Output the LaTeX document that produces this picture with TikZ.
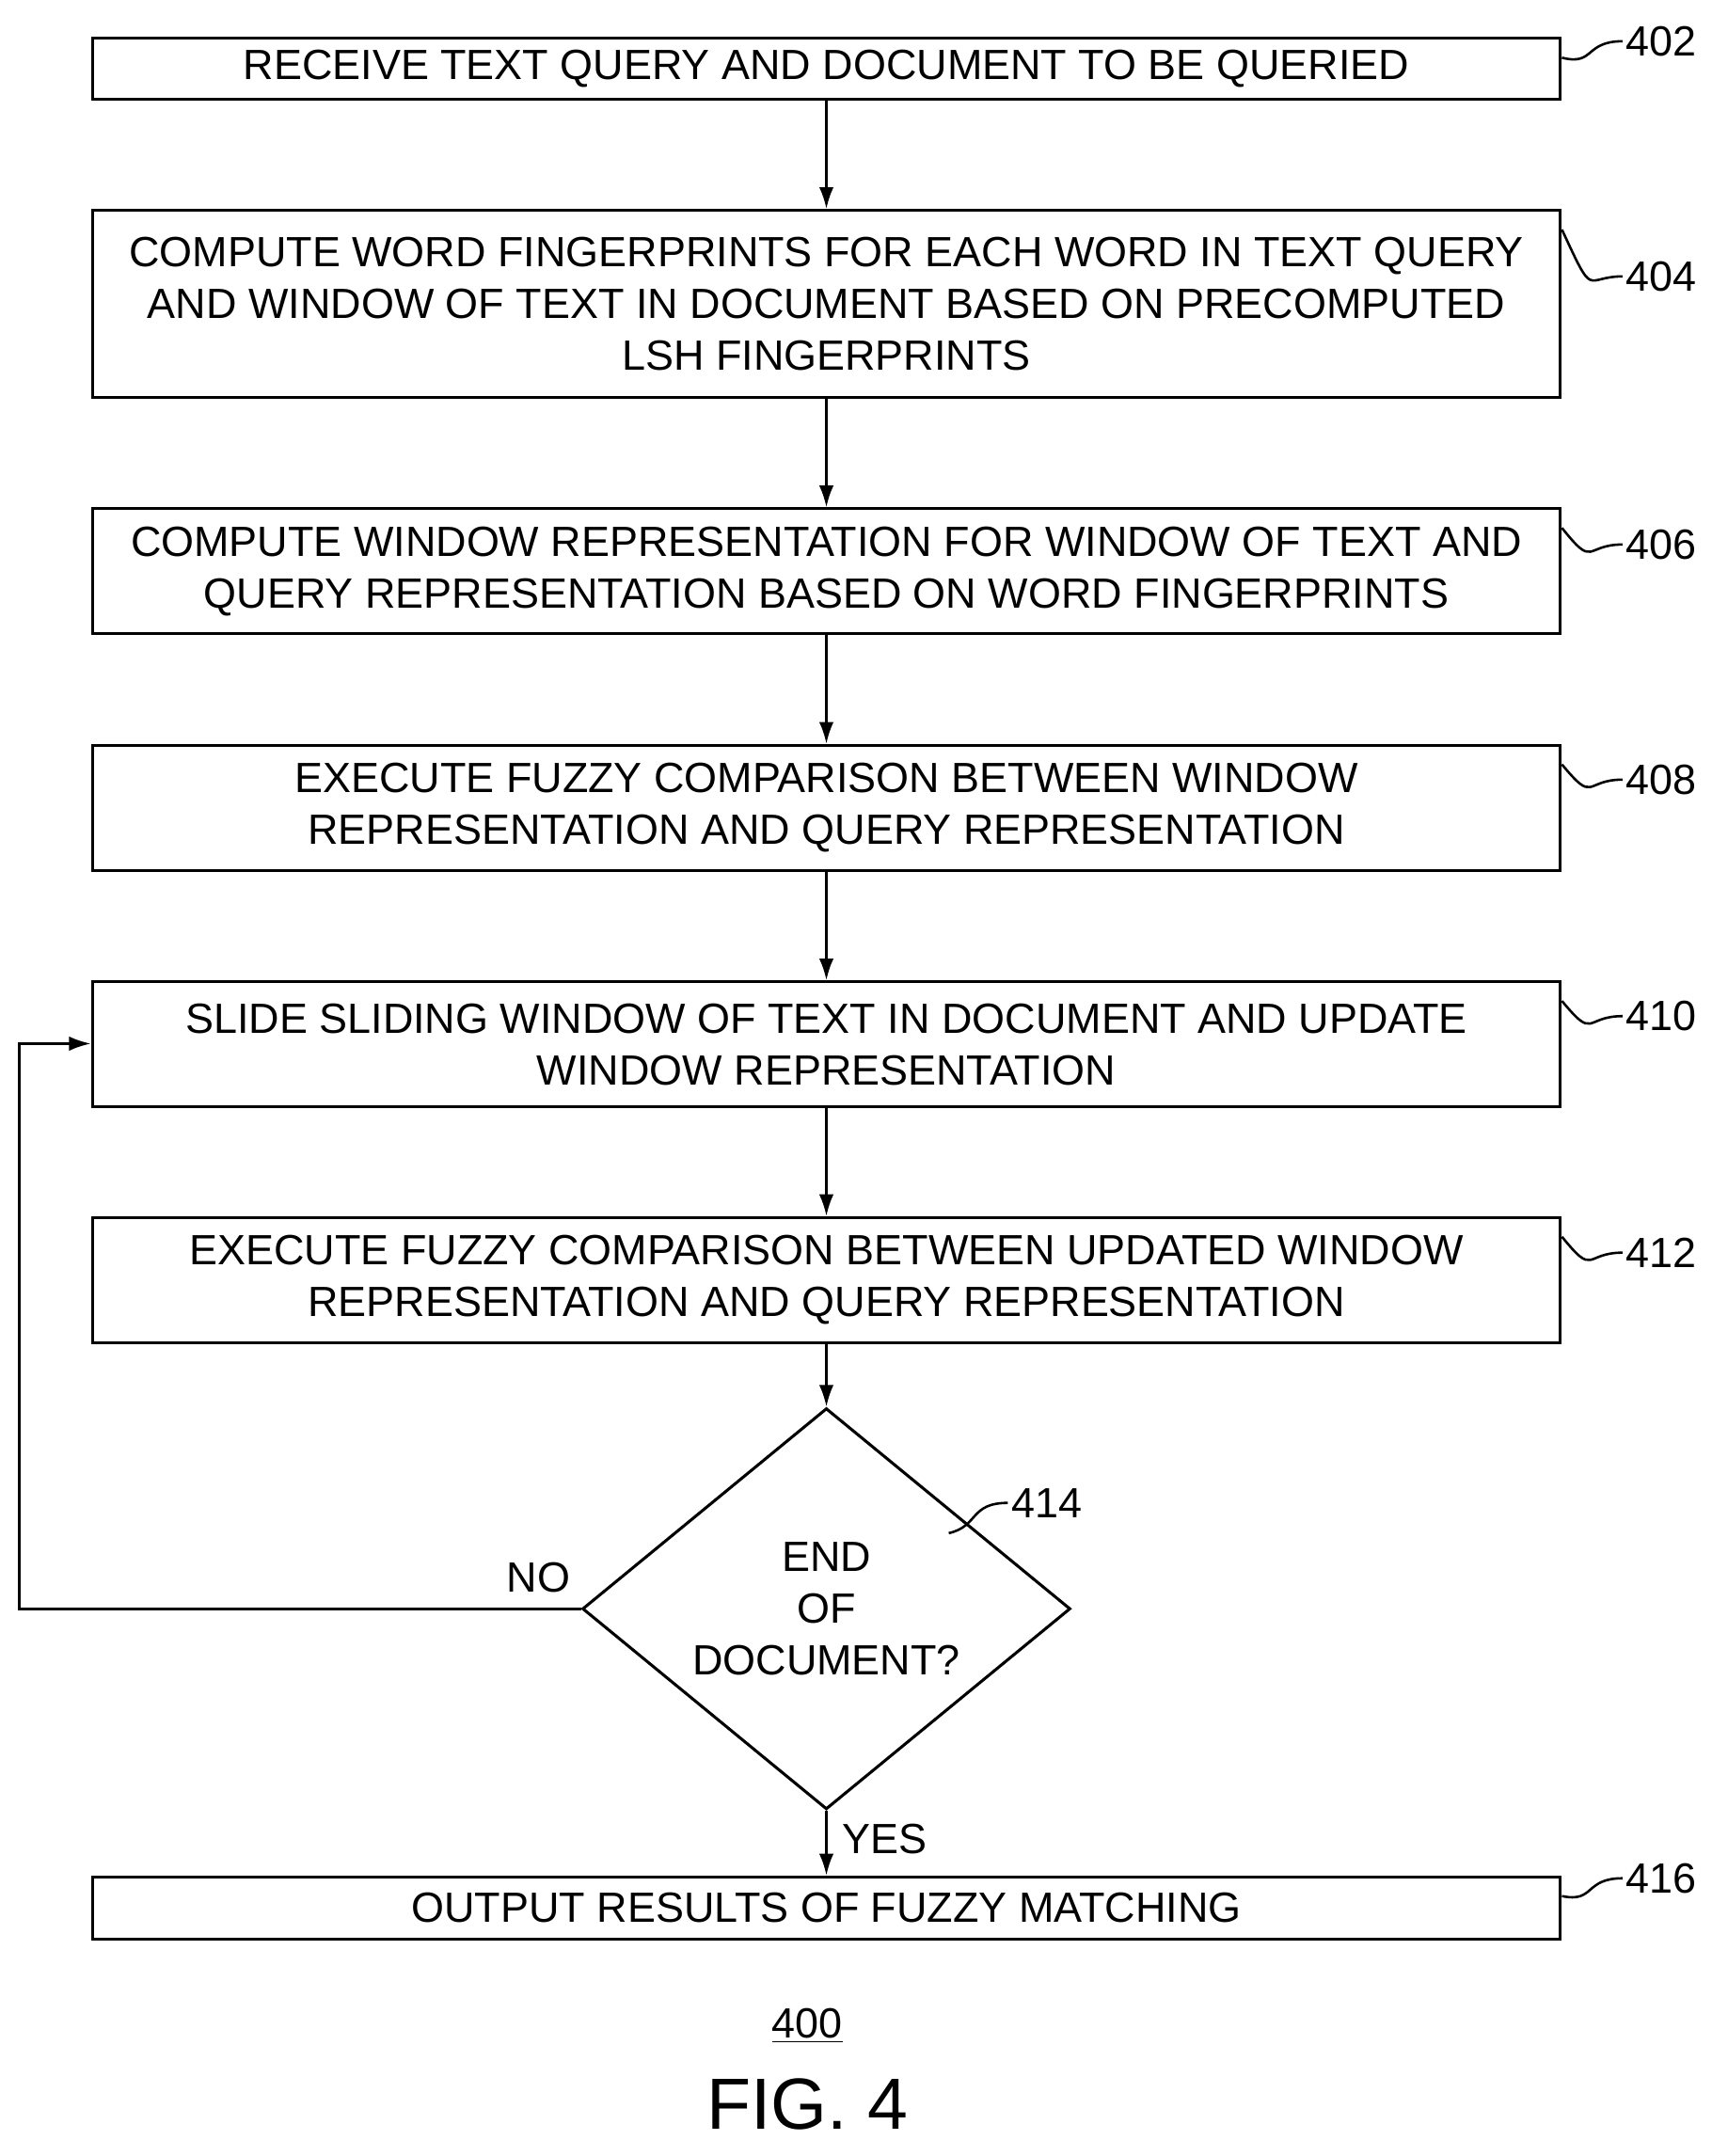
\documentclass[tikz,border=0pt]{standalone}
\usepackage{fontspec}
\setmainfont{Liberation Sans}
\usetikzlibrary{shapes.geometric,arrows.meta,positioning}

\begin{document}
\begin{tikzpicture}[
  x=0.02cm, y=-0.02cm,
  line width=1.2pt,
  font=\fontsize{17.5}{21.5}\selectfont,
  mybox/.style={
    draw,
    rectangle,
    minimum width=21.36cm,
    minimum height=#1,
    inner sep=0pt,
    align=center
    },
  mydiamond/.style={
    draw,
    diamond,
    minimum width=7.1cm,
    minimum height=4.48cm,
    inner sep=0pt,
    align=center
  },
  myarrow/.style={-{Latex[length=9pt,width=6pt]}, line width=1pt},
  mytag/.style={line width=1pt}
]
\useasboundingbox (0,0) rectangle (1245,1568);

\node[mybox=0.88cm] (s402) at (601,50) {RECEIVE TEXT QUERY AND DOCUMENT TO BE QUERIED};
\node[mybox=2.72cm] (s404) at (601,221) {COMPUTE WORD FINGERPRINTS FOR EACH WORD IN TEXT QUERY\\AND WINDOW OF TEXT IN DOCUMENT BASED ON PRECOMPUTED\\LSH FINGERPRINTS};
\node[mybox=1.82cm] (s406) at (601,415.5) {COMPUTE WINDOW REPRESENTATION FOR WINDOW OF TEXT AND\\QUERY REPRESENTATION BASED ON WORD FINGERPRINTS};
\node[mybox=1.82cm] (s408) at (601,587.5) {EXECUTE FUZZY COMPARISON BETWEEN WINDOW\\REPRESENTATION AND QUERY REPRESENTATION};
\node[mybox=1.82cm] (s410) at (601,759.5) {SLIDE SLIDING WINDOW OF TEXT IN DOCUMENT AND UPDATE\\WINDOW REPRESENTATION};
\node[mybox=1.82cm] (s412) at (601,931) {EXECUTE FUZZY COMPARISON BETWEEN UPDATED WINDOW\\REPRESENTATION AND QUERY REPRESENTATION};
\node[mydiamond] (s414) at (601,1170) {END\\OF\\DOCUMENT?};
\node[mybox=0.9cm] (s416) at (601,1387.5) {OUTPUT RESULTS OF FUZZY MATCHING};

% flow
\foreach \From/\To in {s402/s404,s404/s406,s406/s408,s408/s410,s410/s412,s412/s414,s414/s416}
  \draw[myarrow] (\From) -- (\To);

% loop back
\coordinate (loopa) at (14,1170);
\coordinate (loopb) at (14,759);
\draw[myarrow] (s414.west) -- (loopa) -- (loopb) -- (s410.west |- loopb);
\node[anchor=south east] (no) at ([xshift=-0.02cm,yshift=0.1cm]s414.west) {NO};
\node[anchor=north west] (yes) at ([xshift=0.1cm,yshift=-0.05cm]s414.south) {YES};

% reference numerals
\foreach \Box/\Num/\Y in {s402/402/30,s404/404/201,s406/406/396,s408/408/567,s410/410/739,s412/412/911,s416/416/1366}{
  \node[anchor=west,inner sep=1pt] (n\Num) at (1180,\Y) {\Num};
  \draw[mytag] ([yshift=-0.3cm]\Box.north east) .. controls (1160,\Y+18) and (1152,\Y) .. (n\Num.west);
}
\node[anchor=west,inner sep=1pt] (n414) at (733,1093) {414};
\draw[mytag] (690,1115) .. controls (712,1110) and (705,1093) .. (n414.west);

\node (figno) at (587,1473) {\underline{400}};
\node[font=\fontsize{30}{36}\selectfont] (fig) at (587,1530) {FIG. 4};
\end{tikzpicture}
\end{document}
